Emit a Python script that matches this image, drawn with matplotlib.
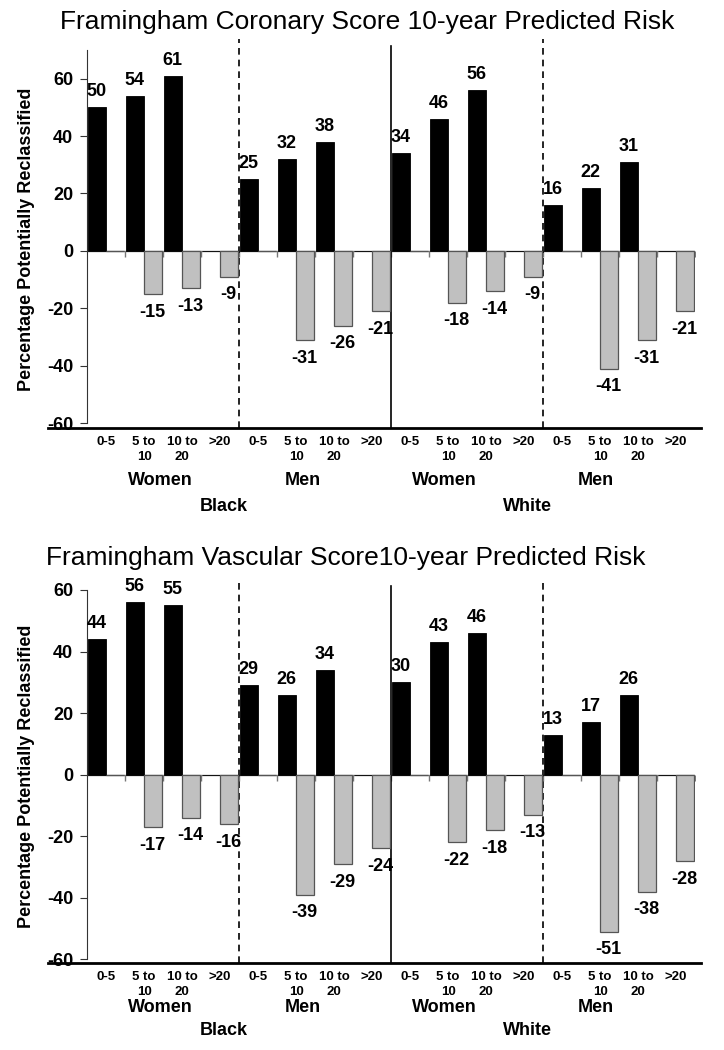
import matplotlib.pyplot as plt

plt.rcParams['font.family'] = ['Liberation Sans', 'DejaVu Sans']

# risk categories, repeated for the 4 race/sex groups
cats = ['0-5', '5 to\n10', '10 to\n20', '>20'] * 4
sexes = ['Women', 'Men', 'Women', 'Men']
races = ['Black', 'White']

# coronary score: black bars (up) and grey bars (down)
cor_up = [50, 54, 61, 0, 25, 32, 38, 0, 34, 46, 56, 0, 16, 22, 31, 0]
cor_down = [0, -15, -13, -9, 0, -31, -26, -21, 0, -18, -14, -9, 0, -41, -31, -21]

# vascular score
vas_up = [44, 56, 55, 0, 29, 26, 34, 0, 30, 43, 46, 0, 13, 17, 26, 0]
vas_down = [0, -17, -14, -16, 0, -39, -29, -24, 0, -22, -18, -13, 0, -51, -38, -28]

fig = plt.figure(figsize=(7.24, 10.5), dpi=100)


def panel(ax, up, down, ytop, ybot, sex_y, race_y):
    n = len(up)
    xs = list(range(n))
    ax.bar([x + 0.02 for x in xs], up, width=0.47, align='edge',
           color='black', edgecolor='black', linewidth=0.6, zorder=3)
    ax.bar([x + 0.5 for x in xs], down, width=0.46, align='edge',
           color='#c0c0c0', edgecolor='#555555', linewidth=0.9, zorder=3)
    for x, v in zip(xs, up):
        if v:
            ax.annotate(str(v), (x + 0.25, v), xytext=(0, 5), textcoords='offset points',
                        ha='center', va='bottom', fontsize=13, fontweight='bold')
    for x, v in zip(xs, down):
        if v:
            ax.annotate(str(v), (x + 0.73, v), xytext=(0, -7), textcoords='offset points',
                        ha='center', va='top', fontsize=13, fontweight='bold')

    ax.set_xlim(0, n)
    ax.set_ylim(ybot, ytop)
    ax.axhline(0, color='#777777', lw=1, zorder=2)
    ax.plot(xs[1:] + [n], [0] * n, ls='none', marker=3, ms=4, color='#777777', zorder=2)

    ax.axvline(8, ymin=0, ymax=1.01, color='black', lw=1.2, clip_on=False)
    for xd in (4, 12):
        ax.axvline(xd, ymin=0, ymax=1.03, color='black', lw=1.2, ls=(0, (4, 3)), clip_on=False)

    for s in ('top', 'right', 'bottom'):
        ax.spines[s].set_visible(False)
    ax.spines['left'].set_bounds(-60, ytop)
    ax.spines['left'].set_color('#333333')
    ax.plot([-0.065, 1.01], [0, 0], transform=ax.transAxes, color='black', lw=2, clip_on=False)

    ax.set_yticks(range(-60, 61, 20))
    ax.set_yticklabels([str(t) for t in range(-60, 61, 20)], fontsize=13, fontweight='bold')
    ax.tick_params(axis='y', length=5, width=0.8, color='#333333', pad=5)
    ax.set_xticks([x + 0.5 for x in xs])
    ax.set_xticklabels(cats, fontsize=9.5, fontweight='bold', linespacing=1.3)
    ax.tick_params(axis='x', length=0, pad=6)
    ax.set_ylabel('Percentage Potentially Reclassified', fontsize=13, fontweight='bold')
    ax.yaxis.set_label_coords(-0.085, 0.5)

    for xp, s in zip([1.92, 5.68, 9.4, 13.4], sexes):
        ax.text(xp, sex_y, s, transform=ax.get_xaxis_transform(), ha='center', va='center',
                fontsize=13, fontweight='bold')
    for xp, r in zip([3.6, 11.6], races):
        ax.text(xp, race_y, r, transform=ax.get_xaxis_transform(), ha='center', va='center',
                fontsize=13, fontweight='bold')


ax1 = fig.add_axes([0.1202, 0.5924, 0.8398, 0.36])
panel(ax1, cor_up, cor_down, 70, -61.7, -0.138, -0.207)
ax2 = fig.add_axes([0.1202, 0.0829, 0.8398, 0.3552])
panel(ax2, vas_up, vas_down, 60, -61.2, -0.12, -0.182)

fig.text(0.507, 1 - 22 / 1050, 'Framingham Coronary Score 10-year Predicted Risk',
         ha='center', va='center', fontsize=19)
fig.text(0.477, 1 - 558 / 1050, 'Framingham Vascular Score10-year Predicted Risk',
         ha='center', va='center', fontsize=19)

fig.savefig('out.png', dpi=100)
